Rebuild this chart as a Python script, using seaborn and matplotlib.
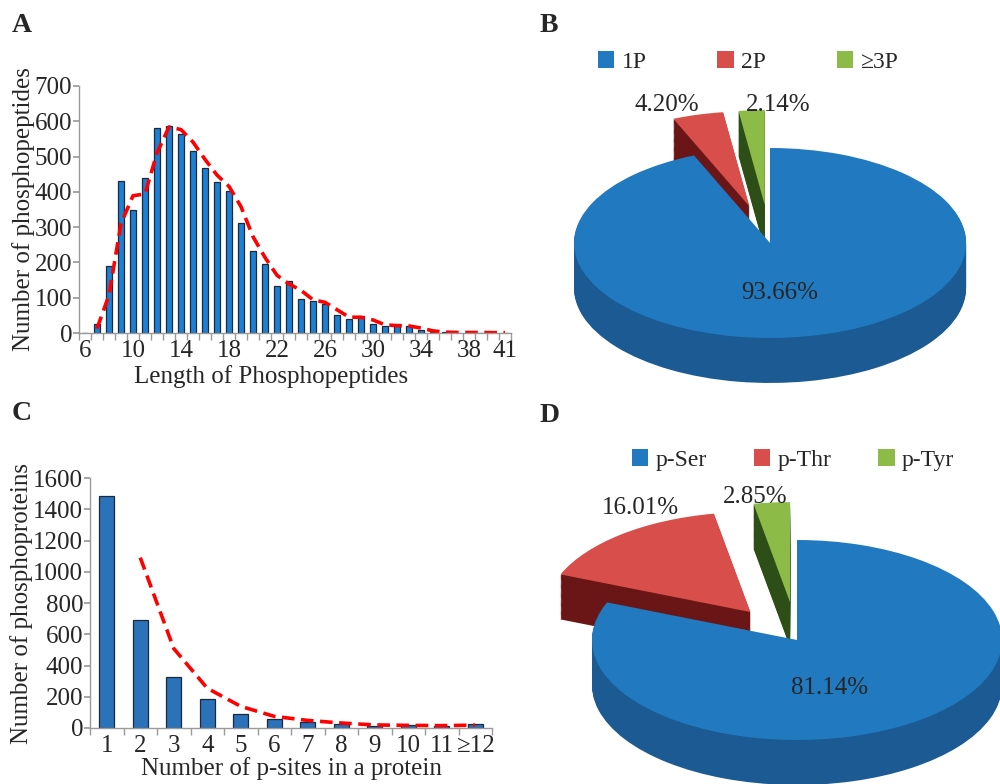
import numpy as np
import pandas as pd
import matplotlib
matplotlib.use('Agg')
import matplotlib.pyplot as plt
from matplotlib.patches import Patch
import seaborn as sns

# Panel A: peptide length distribution
LENGTHS = [str(v) for v in range(6, 42)]
PEPTIDE_COUNTS = [0, 25, 190, 430, 348, 440, 580, 588, 565, 517, 467, 428,
                  403, 313, 233, 195, 132, 146, 96, 92, 82, 50, 40, 49,
                  25, 21, 21, 19, 9, 3, 2, 1, 2, 1, 1, 1]
LENGTH_TICKS = ['6', '10', '14', '18', '22', '26', '30', '34', '38', '41']

# Panel B: phosphorylation sites per peptide
MULTI_LABELS = ['1P', '2P', '≥3P']
MULTI_PCT = [93.66, 4.20, 2.14]

# Panel C: p-sites per protein
SITES = ['1', '2', '3', '4', '5', '6', '7', '8', '9', '10', '11', '≥12']
PROTEIN_COUNTS = [1488, 693, 324, 185, 92, 57, 40, 24, 15, 19, 11, 26]

# Panel D: residue types
RESIDUE_LABELS = ['p-Ser', 'p-Thr', 'p-Tyr']
RESIDUE_PCT = [81.14, 16.01, 2.85]

W, H = 1000, 784
BAR_BLUE = '#1C80D4'
BAR_BLUE_C = '#2B72B8'
TOP_COLORS = ['#2179C0', '#D84E4A', '#8DBB48']
SIDE_COLORS = ['#1B5A92', '#6B1616', '#2E4E17']
AXIS_GREY = '#9A9A9A'
FS = 18

sns.set_theme(style='white')
plt.rcParams['font.family'] = ['Liberation Serif', 'DejaVu Serif']


def px_axes(fig, x0, x1, y0, y1):
    """Axes from pixel box (y measured from top)."""
    return fig.add_axes([x0 / W, 1 - y1 / H, (x1 - x0) / W, (y1 - y0) / H])


def style_bar_axes(ax, n):
    for side in ['top', 'right']:
        ax.spines[side].set_visible(False)
    for side in ['left', 'bottom']:
        ax.spines[side].set_color(AXIS_GREY)
        ax.spines[side].set_linewidth(1.0)
    ax.set_xlim(-0.5, n - 0.5)
    ax.set_xticks(np.arange(-0.5, n, 1.0), minor=True)
    ax.tick_params(axis='x', which='minor', length=5, color=AXIS_GREY,
                   direction='out', bottom=True)
    ax.tick_params(axis='x', which='major', length=0, labelsize=FS, pad=5)
    ax.tick_params(axis='y', length=4, color=AXIS_GREY, direction='out',
                   left=True, labelsize=FS, pad=1)
    ax.grid(False)


def bar_panel(ax, cats, counts, color, width, ymax, ystep, ticks, xlabel, ylabel):
    df = pd.DataFrame({'cat': cats, 'count': counts})
    sns.barplot(data=df, x='cat', y='count', order=cats, color=color,
                width=width, edgecolor='#1A2A3A', linewidth=0.9,
                saturation=1, ax=ax)
    # Excel-style 2-period moving average trendline
    trend = df['count'].rolling(2).mean()
    pos = np.arange(len(cats))
    sns.lineplot(x=pos[1:], y=trend[1:], color='#FF0000', linewidth=2.6,
                 linestyle=(0, (3.5, 1.8)), ax=ax)
    style_bar_axes(ax, len(cats))
    ax.set_ylim(0, ymax)
    ax.set_yticks(np.arange(0, ymax + 1, ystep))
    if ticks is not None:
        ax.set_xticks([cats.index(t) for t in ticks])
        ax.set_xticklabels(ticks)
    ax.set_xlabel(xlabel, fontsize=FS, labelpad=0)
    ax.set_ylabel(ylabel, fontsize=FS, labelpad=0)


def pie3d(ax, pcts, explode, depth, text_pos, layers=40):
    # stacked darker layers give the extruded side of the pie
    for k in range(layers, 0, -1):
        ax.pie(pcts, colors=SIDE_COLORS, startangle=90, counterclock=False,
               explode=explode, center=(0, -depth * k / layers),
               wedgeprops=dict(linewidth=0))
    ax.pie(pcts, colors=TOP_COLORS, startangle=90, counterclock=False,
           explode=explode, center=(0, 0), wedgeprops=dict(linewidth=0))
    for pct, (tx, ty) in zip(pcts, text_pos):
        ax.text(tx, ty, f'{pct:.2f}%', ha='center', va='center', fontsize=FS)
    ax.set_aspect('auto')
    ax.axis('off')


fig = plt.figure(figsize=(W / 100, H / 100), dpi=100)

# A
ax_a = px_axes(fig, 79, 511, 86, 333)
bar_panel(ax_a, LENGTHS, PEPTIDE_COUNTS, BAR_BLUE, 0.45, 700, 100,
          LENGTH_TICKS, 'Length of Phosphopeptides', 'Number of phosphopeptides')
ax_a.xaxis.set_label_coords(0.445, -0.13)

# C
ax_c = px_axes(fig, 90, 492, 478, 728)
bar_panel(ax_c, SITES, PROTEIN_COUNTS, BAR_BLUE_C, 0.45, 1600, 200,
          None, 'Number of p-sites in a protein', 'Number of phosphoproteins')

# B
ax_b = px_axes(fig, 545, 1000, 40, 400)
pie3d(ax_b, MULTI_PCT, [0, 0.4, 0.4], 45 / 95,
      [(0.051, -0.526), (-0.526, 1.453), (0.041, 1.453)])
ax_b.set_xlim(-1.148, 1.173)
ax_b.set_ylim(-1.653, 2.137)

# D
ax_d = px_axes(fig, 545, 1000, 440, 784)
pie3d(ax_d, RESIDUE_PCT, [0, 0.36, 0.38], 45 / 100,
      [(0.161, -0.48), (-0.766, 1.32), (-0.205, 1.43)])
ax_d.set_xlim(-1.229, 0.990)
ax_d.set_ylim(-1.44, 2.0)

# legends
for labels, cx, cy, spacing in [(MULTI_LABELS, 748, 62, 3.0),
                                (RESIDUE_LABELS, 793, 460, 2.0)]:
    handles = [Patch(facecolor=c, edgecolor='none', label=l)
               for c, l in zip(TOP_COLORS, labels)]
    fig.legend(handles=handles, loc='center', bbox_to_anchor=(cx / W, 1 - cy / H),
               ncol=3, frameon=False, fontsize=FS - 1, handlelength=0.7,
               handleheight=0.7, handletextpad=0.3, columnspacing=spacing)

# panel letters
for letter, x, y in [('A', 12, 26), ('B', 540, 26), ('C', 12, 413), ('D', 540, 415)]:
    fig.text(x / W, 1 - y / H, letter, fontsize=20, fontweight='bold',
             ha='left', va='center')

fig.savefig('out.png', dpi=100)
